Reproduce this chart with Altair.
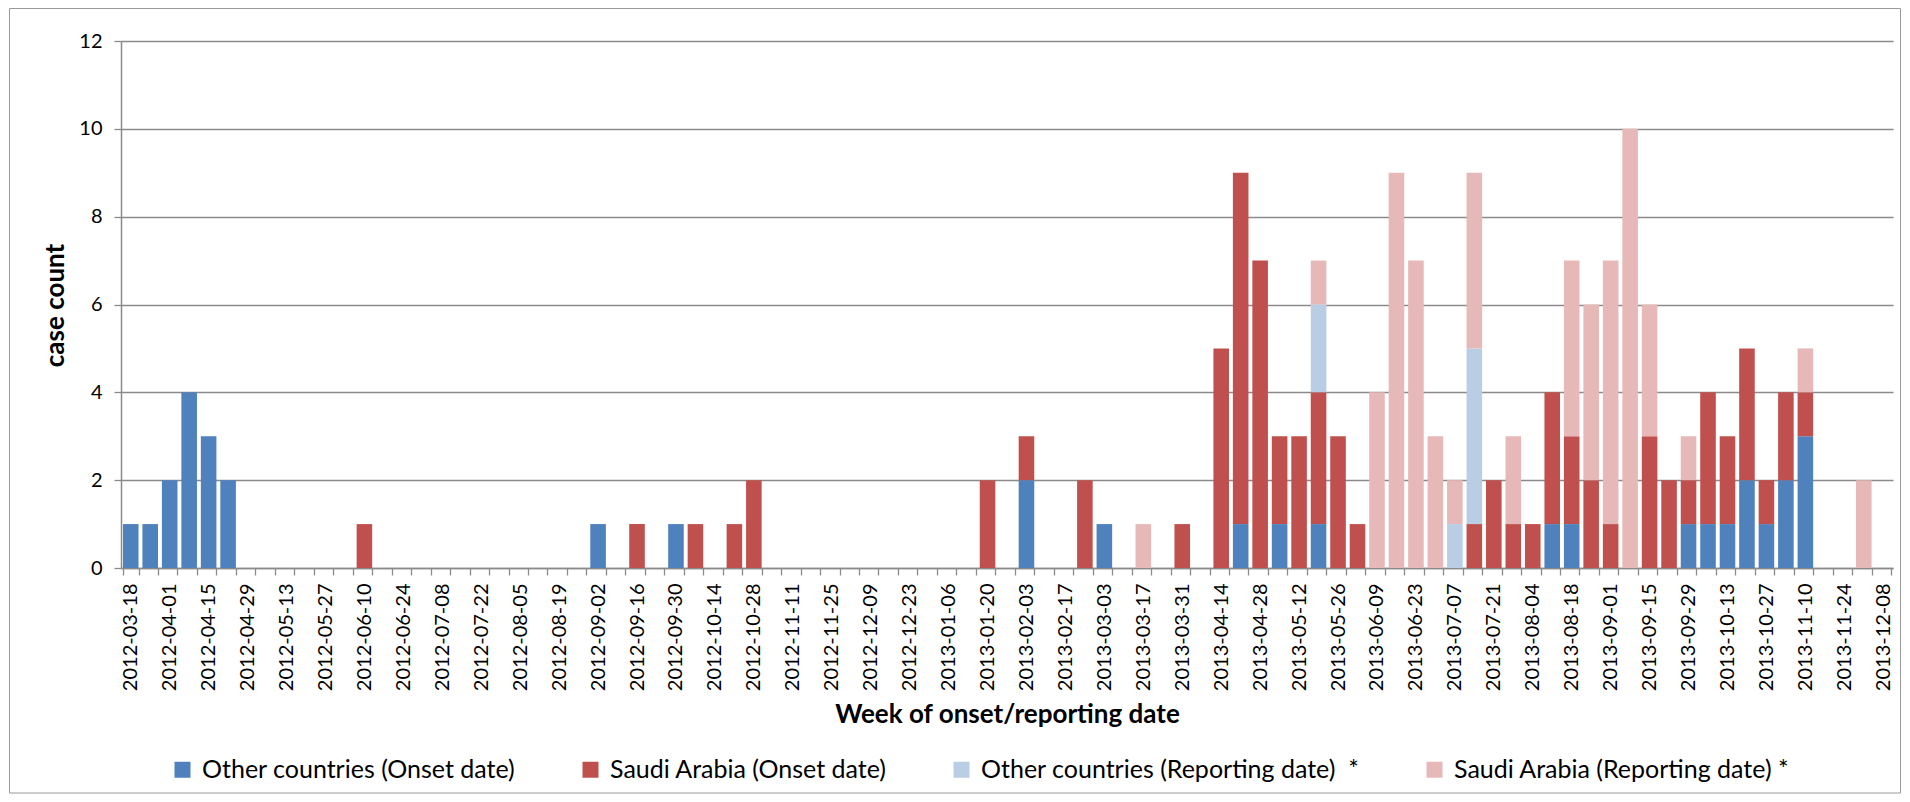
import json
import altair as alt
import pandas as pd

# Weekly categories (week starting dates)
weeks = [d.strftime("%Y-%m-%d") for d in pd.date_range("2012-03-18", "2013-12-08", freq="7D")]

series_names = [
    "Other countries (Onset date)",
    "Saudi Arabia (Onset date)",
    "Other countries (Reporting date)\u00a0 *",
    "Saudi Arabia (Reporting date) *",
]
series_colors = ["#4F81BD", "#C0504D", "#B9CDE5", "#E6B9B8"]

other_onset = [
    1, 1, 2, 4, 3, 2, 0, 0, 0, 0,
    0, 0, 0, 0, 0, 0, 0, 0, 0, 0,
    0, 0, 0, 0, 1, 0, 0, 0, 1, 0,
    0, 0, 0, 0, 0, 0, 0, 0, 0, 0,
    0, 0, 0, 0, 0, 0, 2, 0, 0, 0,
    1, 0, 0, 0, 0, 0, 0, 1, 0, 1,
    0, 1, 0, 0, 0, 0, 0, 0, 0, 0,
    0, 0, 0, 1, 1, 0, 0, 0, 0, 0,
    1, 1, 1, 2, 1, 2, 3, 0, 0, 0,
    0,
]
saudi_onset = [
    0, 0, 0, 0, 0, 0, 0, 0, 0, 0,
    0, 0, 1, 0, 0, 0, 0, 0, 0, 0,
    0, 0, 0, 0, 0, 0, 1, 0, 0, 1,
    0, 1, 2, 0, 0, 0, 0, 0, 0, 0,
    0, 0, 0, 0, 2, 0, 1, 0, 0, 2,
    0, 0, 0, 0, 1, 0, 5, 8, 7, 2,
    3, 3, 3, 1, 0, 0, 0, 0, 0, 1,
    2, 1, 1, 3, 2, 2, 1, 0, 3, 2,
    1, 3, 2, 3, 1, 2, 1, 0, 0, 0,
    0,
]
other_reporting = [
    0, 0, 0, 0, 0, 0, 0, 0, 0, 0,
    0, 0, 0, 0, 0, 0, 0, 0, 0, 0,
    0, 0, 0, 0, 0, 0, 0, 0, 0, 0,
    0, 0, 0, 0, 0, 0, 0, 0, 0, 0,
    0, 0, 0, 0, 0, 0, 0, 0, 0, 0,
    0, 0, 0, 0, 0, 0, 0, 0, 0, 0,
    0, 2, 0, 0, 0, 0, 0, 0, 1, 4,
    0, 0, 0, 0, 0, 0, 0, 0, 0, 0,
    0, 0, 0, 0, 0, 0, 0, 0, 0, 0,
    0,
]
saudi_reporting = [
    0, 0, 0, 0, 0, 0, 0, 0, 0, 0,
    0, 0, 0, 0, 0, 0, 0, 0, 0, 0,
    0, 0, 0, 0, 0, 0, 0, 0, 0, 0,
    0, 0, 0, 0, 0, 0, 0, 0, 0, 0,
    0, 0, 0, 0, 0, 0, 0, 0, 0, 0,
    0, 0, 1, 0, 0, 0, 0, 0, 0, 0,
    0, 1, 0, 0, 4, 9, 7, 3, 1, 4,
    0, 2, 0, 0, 4, 4, 6, 10, 3, 0,
    1, 0, 0, 0, 0, 0, 1, 0, 0, 2,
    0,
]

y_ticks = [0, 2, 4, 6, 8, 10, 12]

rows = []
for order, (name, vals) in enumerate(zip(series_names,
                                         [other_onset, saudi_onset, other_reporting, saudi_reporting])):
    for wk, v in zip(weeks, vals):
        if v > 0:
            rows.append({"week": wk, "series": name, "count": v, "order": order})
df = pd.DataFrame(rows)

label_expr = "indexof(" + json.dumps(weeks) + ", datum.value) % 2 == 0 ? datum.value : ''"

grid_col = "#8a8a8a"

PLOT_W, PLOT_H = 1772, 527
PAD = {"left": 113, "top": 33, "right": 9, "bottom": 226}

bars = alt.Chart(df).mark_bar().encode(
    x=alt.X(
        "week:N",
        scale=alt.Scale(domain=weeks, paddingInner=0.2, paddingOuter=0.1),
        axis=alt.Axis(
            title="Week of onset/reporting date",
            labelAngle=-90,
            labelExpr=label_expr,
            labelOverlap=False,
            labelFontSize=20,
            labelPadding=8,
            labelColor="#000000",
            tickBand="extent",
            tickSize=7,
            tickColor=grid_col,
            tickWidth=1.3,
            domainColor=grid_col,
            domainWidth=1.5,
            grid=False,
            titleFontSize=26,
            titleFontWeight="bold",
            titleColor="#000000",
            titleBaseline="alphabetic",
            titleY=154,
        ),
    ),
    y=alt.Y(
        "count:Q",
        stack="zero",
        scale=alt.Scale(domain=[0, 12], nice=False),
        axis=alt.Axis(
            title="case count",
            values=y_ticks,
            labelFontSize=20,
            labelPadding=12,
            labelColor="#000000",
            tickSize=7,
            tickColor=grid_col,
            tickWidth=1.3,
            domainColor=grid_col,
            domainWidth=1.5,
            grid=True,
            gridColor=grid_col,
            gridWidth=1.3,
            titleFontSize=26,
            titleFontWeight="bold",
            titleColor="#000000",
            titleBaseline="alphabetic",
            titleAngle=-90,
            titleX=-58,
            titleY=264,
        ),
    ),
    color=alt.Color(
        "series:N",
        scale=alt.Scale(domain=series_names, range=series_colors),
        legend=alt.Legend(
            title=None,
            orient="none",
            legendX=49,
            legendY=716,
            direction="horizontal",
            columns=4,
            symbolType="square",
            symbolSize=256,
            symbolStrokeWidth=0,
            labelFontSize=25,
            labelColor="#000000",
            labelOffset=7,
            labelLimit=1000,
            columnPadding=62,
        ),
    ),
    order=alt.Order("order:Q", sort="ascending"),
)

# Decorative outer chart-area frame (as in the original spreadsheet chart)
frame = alt.Chart(alt.Data(values=[{}])).mark_rect(
    filled=False, stroke="#9a9a9a", strokeWidth=1
).encode(
    x=alt.value(-PAD["left"] + 1.5),
    x2=alt.value(PLOT_W + PAD["right"] - 1.5),
    y=alt.value(-PAD["top"] + 0.5),
    y2=alt.value(PLOT_H + PAD["bottom"] - 1),
)

chart = alt.layer(frame, bars).properties(
    width=PLOT_W,
    height=PLOT_H,
    autosize=alt.AutoSizeParams(type="none"),
    padding=PAD,
).configure(
    font="Lato",
).configure_view(
    stroke=None,
)

chart.save("out.html", embed_options={"renderer": "svg", "actions": False})
